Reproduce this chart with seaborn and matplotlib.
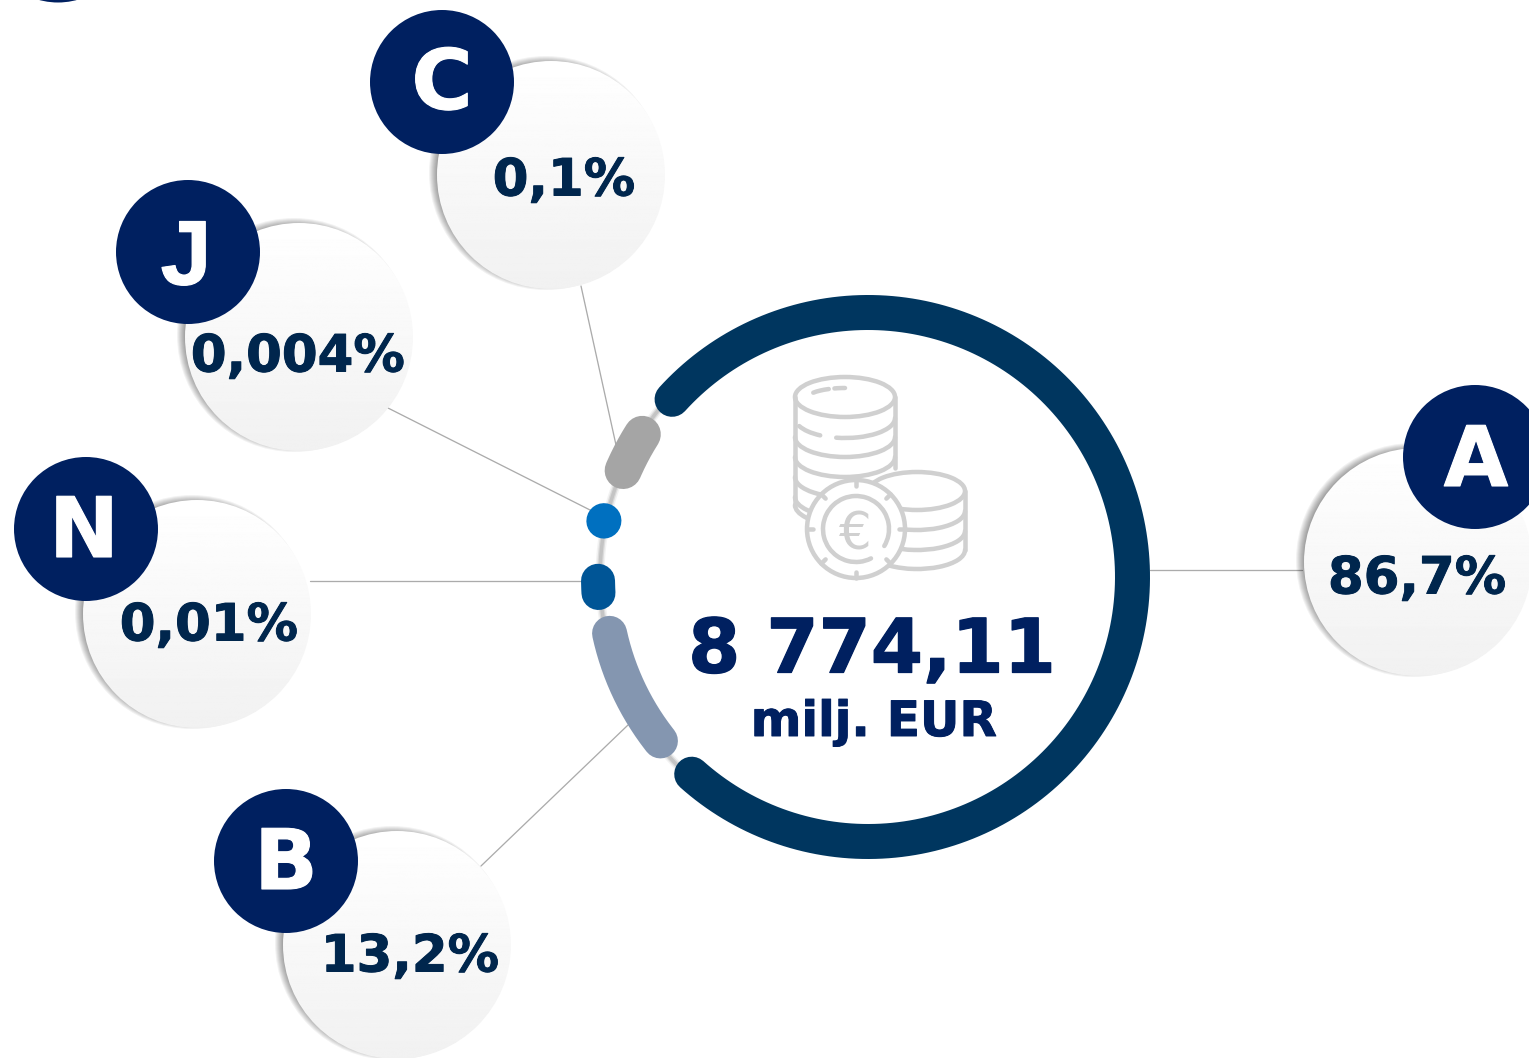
import numpy as np
import pandas as pd
import matplotlib
matplotlib.use("Agg")
import matplotlib.pyplot as plt
import matplotlib.patheffects as pe
from matplotlib.patches import Circle, Ellipse, Arc
import seaborn as sns

# ---- data ----
categories = ["A", "B", "N", "J", "C"]
share_labels = ["86,7%", "13,2%", "0,01%", "0,004%", "0,1%"]
total_value = "8 774,11"
total_unit = "milj. EUR"
arc_start_deg = [-131.8, 192.3, 180.8, 167.95, 147.7]
arc_end_deg = [137.8, 218.3, 183.4, 168.05, 156.5]

# ---- layout (pixel space) ----
W, H = 1529, 1058
arc_radius = [264.5, 264.5, 270, 270, 267]
arc_width_px = [35, 35, 34, 35, 37]
arc_colors = ["#00365F", "#8496B0", "#005596", "#0070C0", "#A5A5A5"]
ring_c = (868, 577)
bubble_x = [1418, 397, 197, 299, 551]
bubble_y = [562, 945, 614, 337, 175]
badge_x = [1475, 286, 86, 188, 442]
badge_y = [457, 861, 529, 252, 82]
letter_x = [1476, 286, 84, 186, 442]
letter_y = [454, 857, 525, 251, 77]
letter_font = ["DejaVu Sans", "DejaVu Sans", "DejaVu Sans", "Liberation Sans", "DejaVu Sans"]
letter_size = [60, 60, 60, 66, 60]
label_x = [1417, 410, 209, 298, 564]
label_y = [574, 952, 621, 352, 176]
conn_x = [(1150, 1302), (481, 628), (310, 581), (388, 592), (581, 616)]
conn_y = [(570, 570), (866, 725), (581, 581), (408, 511), (286, 445)]
NAVY = "#002060"
TXT = "#00264D"
ICON = "#D0D0D0"
BUBBLE_R = 114
BADGE_D_PT = 144 * 72 / 100

sns.set_theme(style="white")
plt.rcParams["font.family"] = ["DejaVu Sans"]

fig = plt.figure(figsize=(W / 100, H / 100), dpi=100, facecolor="white")
ax = fig.add_axes([0, 0, 1, 1])


def pt(px):
    return px * 72 / 100


def heavy(color, w=0.7):
    return [pe.withStroke(linewidth=w, foreground=color)]


# connectors
for xs, ys in zip(conn_x, conn_y):
    sns.lineplot(x=list(xs), y=list(ys), color="#ABABAB", linewidth=pt(1.3),
                 sort=False, estimator=None, ax=ax, zorder=1)

# thin background ring with soft shadow
th = np.radians(np.linspace(137, 229, 120))
for w, a, c in [(9, .10, "#888888"), (6, .25, "#999999"), (3.5, 1, "#C4C4C4")]:
    ax.plot(ring_c[0] + 268 * np.cos(th), ring_c[1] - 268 * np.sin(th),
            color=c, alpha=a, lw=pt(w), zorder=1.5)

# ring segments
for s, e, r, w, c in zip(arc_start_deg, arc_end_deg, arc_radius, arc_width_px, arc_colors):
    t = np.radians(np.linspace(s, e, 200))
    sns.lineplot(x=ring_c[0] + r * np.cos(t), y=ring_c[1] - r * np.sin(t), color=c,
                 linewidth=pt(w), sort=False, estimator=None, ax=ax, zorder=2,
                 solid_capstyle="round")

# bubbles
grad = np.linspace(1, 0.945, 256).reshape(-1, 1)
for cx, cy in zip(bubble_x, bubble_y):
    for k in range(10):
        ax.add_patch(Circle((cx - 5, cy - 2), BUBBLE_R + 3 - k, fc="black",
                            ec="none", alpha=0.05, zorder=3))
    im = ax.imshow(grad, extent=(cx - BUBBLE_R, cx + BUBBLE_R, cy + BUBBLE_R, cy - BUBBLE_R),
                   cmap="gray", vmin=0, vmax=1, aspect="auto", zorder=4)
    clip = Circle((cx, cy), BUBBLE_R, transform=ax.transData)
    im.set_clip_path(clip)

# badges
badges = pd.DataFrame({"x": badge_x + [58], "y": badge_y + [-69.5]})
sns.scatterplot(data=badges, x="x", y="y", s=BADGE_D_PT ** 2, color=NAVY,
                edgecolor="none", linewidth=0, ax=ax, zorder=5, legend=False)

# text
for c, x, y, f, sz in zip(categories, letter_x, letter_y, letter_font, letter_size):
    ax.text(x, y, c, color="white", fontsize=sz, fontweight="bold", family=f, ha="center",
            va="center_baseline", zorder=7,
            path_effects=[pe.SimpleLineShadow(offset=(1.5, -1.5), shadow_color="black", alpha=0.3),
                          pe.withStroke(linewidth=0.8, foreground="white")])
for l, x, y in zip(share_labels, label_x, label_y):
    ax.text(x, y, l, color=TXT, fontsize=37, fontweight="bold", ha="center",
            va="center_baseline", zorder=6, path_effects=heavy(TXT))
ax.text(872, 644, total_value, color=NAVY, fontsize=54, fontweight="bold", ha="center",
        va="center_baseline", zorder=6, path_effects=heavy(NAVY, 0.9))
ax.text(874, 717, total_unit, color=NAVY, fontsize=35, fontweight="bold", ha="center",
        va="center_baseline", zorder=6, path_effects=heavy(NAVY))

# coin icon
lw = pt(4.5)
iz = 2.5


def arc(cx, cy, w, h, a1, a2, z=iz):
    ax.add_patch(Arc((cx, cy), w, h, theta1=a1, theta2=a2, color=ICON, lw=lw, zorder=z,
                     capstyle="round"))


def seg(x1, y1, x2, y2, z=iz):
    ax.plot([x1, x2], [y1, y2], color=ICON, lw=lw, solid_capstyle="round", zorder=z)


# tall stack (y axis is inverted: arc angles 0-180 draw the lower half on screen)
ax.add_patch(Ellipse((845, 397), 100, 40, fc="white", ec=ICON, lw=lw, zorder=iz))
seg(795, 397, 795, 505)
seg(895, 397, 895, 468)
arc(845, 418, 100, 40, 0, 114)
arc(845, 418, 100, 40, 145, 170)
for dy in [437, 457]:
    arc(845, dy, 100, 40, 0, 180)
arc(845, 477, 100, 40, 60, 180)
arc(845, 497, 100, 40, 110, 180)
arc(845, 505, 100, 40, 120, 180)
arc(845, 399, 76, 22, 225, 270)
arc(845, 400, 80, 24, 193, 214)
# short stack
ax.add_patch(Ellipse((917, 491), 96, 38, fc="white", ec=ICON, lw=lw, zorder=iz))
seg(965, 491, 965, 550)
for dy in [511, 531, 550]:
    arc(917, dy, 96, 38, 0, 150)
# coin
ax.add_patch(Circle((856, 529), 49, fc="white", ec=ICON, lw=lw, zorder=iz + 0.1))
arc(856, 529, 66, 66, 63, 391, z=iz + 0.2)
for a in np.radians(np.arange(0, 360, 45)):
    seg(856 + 43 * np.cos(a), 529 + 43 * np.sin(a), 856 + 49 * np.cos(a), 529 + 49 * np.sin(a), z=iz + 0.2)
ax.text(855, 530, "€", color=ICON, fontsize=37, ha="center", va="center_baseline", zorder=iz + 0.3)

ax.set_xlim(0, W)
ax.set_ylim(H, 0)
ax.axis("off")
fig.savefig("out.png", dpi=100, facecolor="white")
